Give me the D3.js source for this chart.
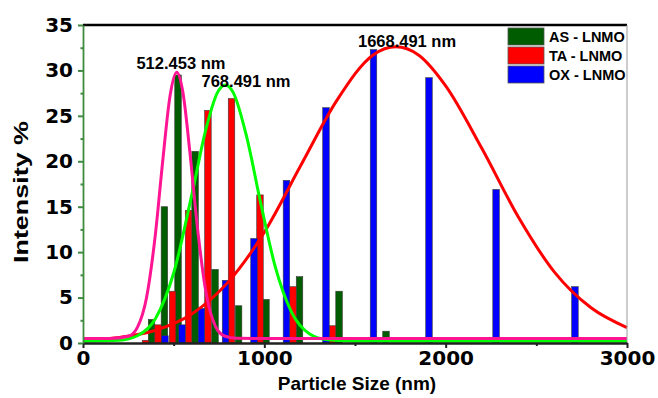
<!DOCTYPE html>
<html>
<head>
<meta charset="utf-8">
<script src="https://cdn.jsdelivr.net/npm/d3@7"></script>
<style>
  html, body { margin: 0; padding: 0; background: #fff; }
  svg { display: block; font-family: "Liberation Sans", Arial, sans-serif; }
</style>
</head>
<body>
<div id="chart"></div>
<script>
// Bar data (bin centre in nm, intensity %)
const asSize = [378, 449, 524, 618, 728, 858, 1009, 1194, 1412, 1671];
const asIntensity = [2.6, 15.0, 29.5, 21.1, 8.1, 4.1, 4.8, 7.3, 5.7, 1.3];

const taSize = [345, 414, 494, 582, 689, 819, 976, 1158, 1376];
const taIntensity = [0.3, 2.0, 5.7, 14.6, 25.6, 26.9, 16.3, 6.2, 1.9];

const oxSize = [452, 546, 653, 786, 943, 1122, 1340, 1602, 1908, 2278, 2713];
const oxIntensity = [0.8, 2.0, 3.8, 6.9, 11.5, 17.9, 25.9, 32.3, 29.2, 16.9, 6.2];

// Fitted curves, points
const asFitX = [0, 150, 250, 300, 350, 400, 440, 480, 517, 550, 590, 630, 680, 730, 780, 850, 1000, 3000];
const asFitY = [0.5, 0.5, 0.74, 1.72, 4.95, 12.1, 20.1, 27.2, 29.8, 27.7, 20.9, 12.9, 5.36, 1.86, 0.77, 0.51, 0.5, 0.5];

const taFitX = [0, 200, 300, 400, 500, 600, 680, 740, 785, 830, 900, 980, 1060, 1150, 1250, 1350, 1500, 3000];
const taFitY = [0.2, 0.3, 0.8, 2.7, 7.7, 16.3, 23.7, 27.5, 28.4, 27.5, 22.9, 15.4, 8.4, 3.4, 1.0, 0.35, 0.2, 0.2];

const oxFitX = [0, 200, 400, 600, 800, 1000, 1200, 1400, 1600, 1725, 1850, 2000, 2200, 2400, 2600, 2800, 3000];
const oxFitY = [0.3, 0.6, 1.4, 3.2, 6.7, 12.2, 19.5, 26.7, 31.7, 32.6, 31.7, 28.3, 21.4, 13.9, 7.8, 3.9, 1.7];

// peak annotations (label centre in data units)
const peakLabels = ["512.453 nm", "768.491 nm", "1668.491 nm"];
const peakLabelX = [540, 899, 1787];
const peakLabelY = [30.2, 28.2, 32.6];

const seriesNames = ["AS - LNMO", "TA - LNMO", "OX - LNMO"];
const xTicks = [0, 1000, 2000, 3000];
const yTicks = [0, 5, 10, 15, 20, 25, 30, 35];

const width = 658, height = 398;
const margin = { top: 25, right: 31, bottom: 55, left: 83 };
const barColors = ["#005c00", "#ff0000", "#0000ff"];
const fitColors = ["#ff1493", "#00ff00", "#ff0000"];
const barWidthNm = 36;
const tickFont = '"DejaVu Sans", sans-serif';

const svg = d3.select("#chart").append("svg")
    .attr("width", width)
    .attr("height", height);

const x = d3.scaleLinear().domain([0, 3000]).range([margin.left, width - margin.right]);
const y = d3.scaleLinear().domain([0, 35]).range([height - margin.bottom, margin.top]);

// bars
const barSets = [
    d3.zip(asSize, asIntensity),
    d3.zip(taSize, taIntensity),
    d3.zip(oxSize, oxIntensity)
];
barSets.forEach((set, i) => {
    svg.append("g")
        .selectAll("rect")
        .data(set)
        .enter()
        .append("rect")
        .attr("x", d => x(d[0] - barWidthNm / 2))
        .attr("y", d => y(d[1]))
        .attr("width", d => x(d[0] + barWidthNm / 2) - x(d[0] - barWidthNm / 2))
        .attr("height", d => y(0) - y(d[1]))
        .attr("fill", barColors[i])
        .attr("stroke", "#3a3a3a")
        .attr("stroke-width", 0.6);
});

// fit curves (OX first, AS on top)
const line = d3.line()
    .x(d => x(d[0]))
    .y(d => y(d[1]))
    .curve(d3.curveMonotoneX);

const fits = [
    { pts: d3.zip(oxFitX, oxFitY), color: fitColors[2] },
    { pts: d3.zip(taFitX, taFitY), color: fitColors[1] },
    { pts: d3.zip(asFitX, asFitY), color: fitColors[0] }
];
fits.forEach(f => {
    svg.append("path")
        .datum(f.pts)
        .attr("fill", "none")
        .attr("stroke", f.color)
        .attr("stroke-width", 3)
        .attr("d", line);
});

// frame: top and right
svg.append("line")
    .attr("x1", x(0)).attr("x2", x(3000))
    .attr("y1", y(35)).attr("y2", y(35))
    .attr("stroke", "#000").attr("stroke-width", 2.5);
svg.append("line")
    .attr("x1", x(3000)).attr("x2", x(3000))
    .attr("y1", y(35)).attr("y2", y(0))
    .attr("stroke", "#999").attr("stroke-width", 1);

// x axis
const xAxis = svg.append("g")
    .attr("transform", `translate(0,${y(0)})`)
    .call(d3.axisBottom(x).tickValues(xTicks).tickSize(5).tickSizeOuter(0).tickFormat(d3.format("d")));
xAxis.select(".domain").attr("stroke", "#222").attr("stroke-width", 2.5);
xAxis.selectAll(".tick line").attr("stroke", "#222").attr("stroke-width", 2);
xAxis.selectAll(".tick text")
    .attr("dy", "0.75em")
    .attr("y", 7)
    .style("font-family", tickFont)
    .style("font-size", "20px")
    .style("font-weight", "bold")
    .attr("fill", "#000");
svg.append("g")
    .attr("transform", `translate(0,${y(0)})`)
    .call(d3.axisBottom(x).tickValues([500, 1500, 2500]).tickSize(3).tickFormat(""))
    .call(g => g.select(".domain").remove())
    .selectAll("line").attr("stroke", "#222").attr("stroke-width", 2);

// y axis
const yAxis = svg.append("g")
    .attr("transform", `translate(${x(0)},0)`)
    .call(d3.axisLeft(y).tickValues(yTicks).tickSize(5).tickSizeOuter(0));
yAxis.select(".domain").attr("stroke", "#3f8a3f").attr("stroke-width", 1.8);
yAxis.selectAll(".tick line").attr("stroke", "#3f8a3f").attr("stroke-width", 2);
yAxis.selectAll(".tick text")
    .attr("x", -10)
    .style("font-family", tickFont)
    .style("font-size", "20px")
    .style("font-weight", "bold")
    .attr("fill", "#000");
svg.append("g")
    .attr("transform", `translate(${x(0)},0)`)
    .call(d3.axisLeft(y).tickValues(d3.range(2.5, 35, 5)).tickSize(2.5).tickFormat(""))
    .call(g => g.select(".domain").remove())
    .selectAll("line").attr("stroke", "#3f8a3f").attr("stroke-width", 2);

// axis titles
svg.append("text")
    .attr("x", 357)
    .attr("y", 390)
    .attr("text-anchor", "middle")
    .style("font-size", "19px")
    .style("font-weight", "bold")
    .text("Particle Size (nm)");
svg.append("text")
    .attr("transform", "rotate(-90)")
    .attr("x", -192)
    .attr("y", 28)
    .attr("text-anchor", "middle")
    .attr("textLength", 142)
    .attr("lengthAdjust", "spacingAndGlyphs")
    .style("font-size", "20px")
    .style("font-weight", "bold")
    .text("Intensity %");

// peak labels
svg.append("g")
    .selectAll("text")
    .data(peakLabels)
    .enter()
    .append("text")
    .attr("x", (d, i) => x(peakLabelX[i]))
    .attr("y", (d, i) => y(peakLabelY[i]))
    .attr("text-anchor", "middle")
    .style("font-size", "16.5px")
    .style("font-weight", "bold")
    .text(d => d);

// legend
const legend = svg.append("g").attr("transform", "translate(508,28)");
seriesNames.forEach((name, i) => {
    legend.append("rect")
        .attr("x", 0).attr("y", i * 19)
        .attr("width", 36).attr("height", 17)
        .attr("fill", barColors[i])
        .attr("stroke", "#555").attr("stroke-width", 0.8);
    legend.append("text")
        .attr("x", 41).attr("y", i * 19 + 13.5)
        .style("font-size", "14.5px")
        .style("font-weight", "bold")
        .text(name);
});
</script>
</body>
</html>
